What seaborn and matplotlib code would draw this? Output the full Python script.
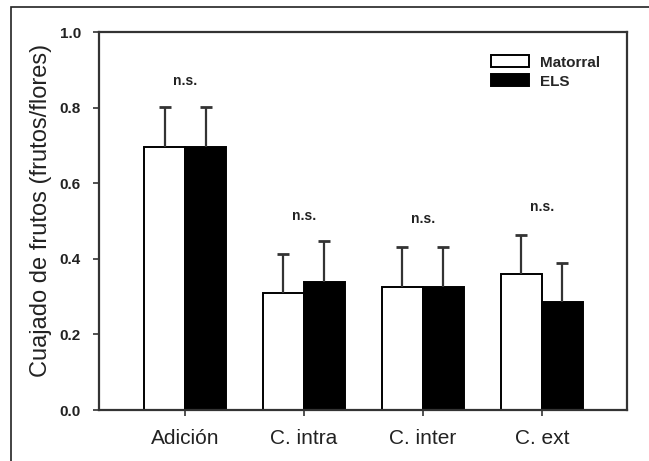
import matplotlib
matplotlib.use("Agg")
import matplotlib.pyplot as plt
from matplotlib.patches import Rectangle
import seaborn as sns
import pandas as pd
import numpy as np

categories = ["Adición", "C. intra", "C. inter", "C. ext"]
groups = ["Matorral", "ELS"]
matorral_mean = [0.696, 0.310, 0.326, 0.359]
matorral_err = [0.106, 0.102, 0.106, 0.103]
els_mean = [0.696, 0.339, 0.326, 0.285]
els_err = [0.106, 0.109, 0.106, 0.104]
ns_labels = ["n.s.", "n.s.", "n.s.", "n.s."]
ns_y = [0.870, 0.512, 0.504, 0.538]
yticks = [0.0, 0.2, 0.4, 0.6, 0.8, 1.0]

df = pd.DataFrame({
    "cat": categories * 2,
    "group": [groups[0]] * 4 + [groups[1]] * 4,
    "val": matorral_mean + els_mean,
    "err": matorral_err + els_err,
})

sns.set_theme(style="white")
plt.rcParams["font.family"] = ["Liberation Sans", "DejaVu Sans"]

fig = plt.figure(figsize=(6.49, 4.61), dpi=100)
ax = fig.add_axes([99 / 649, 1 - 410 / 461, (627 - 99) / 649, (410 - 32) / 461])

sns.barplot(data=df, x="cat", y="val", hue="group", order=categories,
            hue_order=groups, palette=["white", "black"], edgecolor="black",
            linewidth=1.4, width=0.69, errorbar=None, ax=ax, saturation=1)

# error bars (upper only) at bar centers
for cont, g in zip(ax.containers, groups):
    sub = df[df.group == g].set_index("cat").loc[categories]
    xs = [p.get_x() + p.get_width() / 2 for p in cont.patches]
    eb = ax.errorbar(xs, sub["val"].values,
                     yerr=[np.zeros(len(xs)), sub["err"].values],
                     fmt="none", ecolor="#333333", elinewidth=1.6,
                     capsize=4.5, capthick=2.0, zorder=1)
    eb[1][0].set_visible(False)

for i, (t, y) in enumerate(zip(ns_labels, ns_y)):
    ax.text(i, y, t, ha="center", va="center", fontsize=10,
            fontweight="bold", color="#222222")

ax.set_xlim(-0.724, 3.717)
ax.set_ylim(0, 1.0)
ax.set_yticks(yticks)
ax.set_yticklabels([f"{v:.1f}" for v in yticks], fontsize=11,
                   fontweight="bold", color="#222222")
ax.tick_params(axis="x", labelsize=15, colors="#222222", pad=10)
ax.tick_params(axis="both", direction="out", length=4, width=1.2,
               left=True, bottom=True, color="#333333")
ax.tick_params(axis="y", pad=9)
ax.set_xlabel("")
ax.set_ylabel("Cuajado de frutos (frutos/flores)", fontsize=17,
              color="#222222")
ax.yaxis.set_label_coords(-0.089, 0.529)
for s in ax.spines.values():
    s.set_visible(True)
    s.set_linewidth(1.6)
    s.set_color("#333333")

handles, labels = ax.get_legend_handles_labels()
leg = ax.legend(handles, labels, loc="upper right", frameon=False,
                prop={"weight": "bold", "size": 11}, handlelength=2.5,
                handleheight=0.85, handletextpad=0.7, labelspacing=0.3,
                bbox_to_anchor=(0.975, 0.975))
for h in leg.legend_handles:
    h.set_edgecolor("black")
    h.set_linewidth(1.4)

fig.patches.append(Rectangle((11 / 649, -0.2), 2.0, 1.2 - 7 / 461,
                             transform=fig.transFigure, fill=False,
                             edgecolor="#222222", linewidth=1.2,
                             figure=fig))

fig.savefig("out.png", dpi=100)
